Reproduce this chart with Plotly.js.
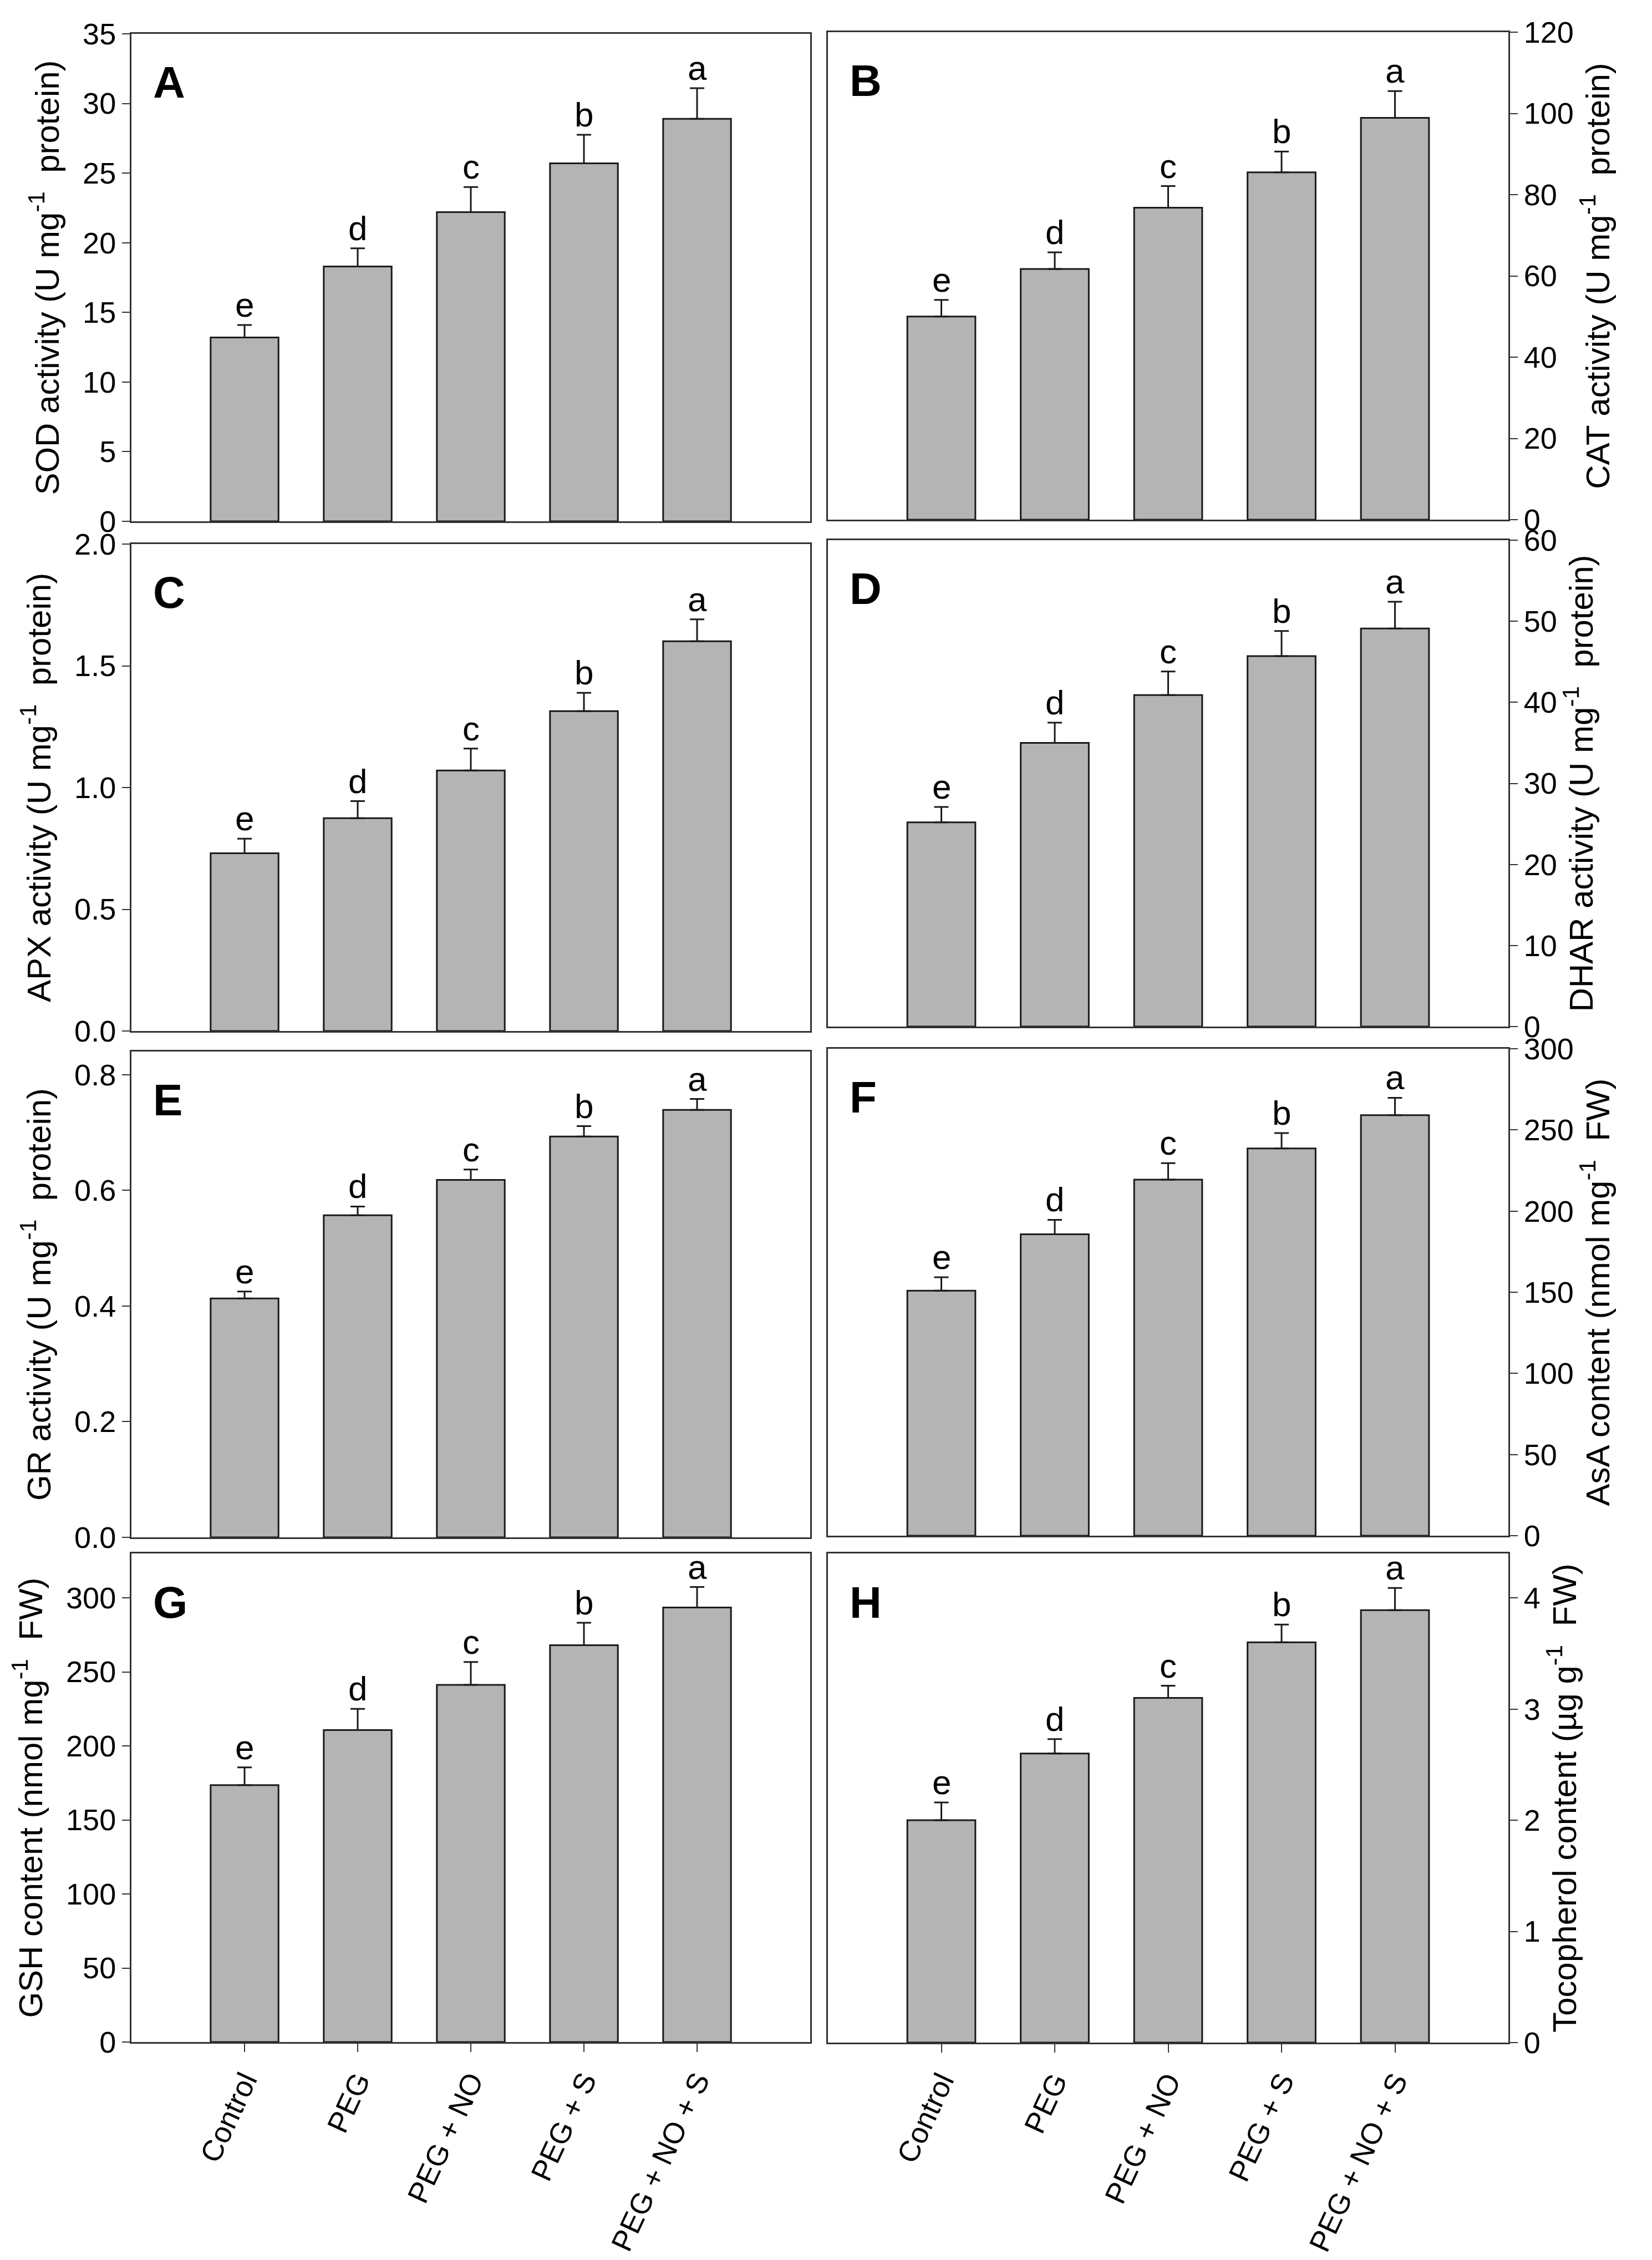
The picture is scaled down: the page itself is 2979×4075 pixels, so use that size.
<!DOCTYPE html>
<html>
<head>
<meta charset="utf-8">
<script src="https://cdn.plot.ly/plotly-3.0.1.min.js"></script>
<style>html,body{margin:0;padding:0;background:#fff;}#chart{width:2979px;height:4075px;}</style>
</head>
<body>
<div id="chart"></div>
<script>
// ---- data ----
const categories = ['Control', 'PEG', 'PEG + NO', 'PEG + S', 'PEG + NO + S'];
const letters = ['e', 'd', 'c', 'b', 'a'];

const sodValues = [13.2, 18.3, 22.2, 25.7, 28.9];
const sodErrors = [0.9, 1.3, 1.8, 2.05, 2.2];

const catValues = [50.0, 61.7, 76.8, 85.5, 98.9];
const catErrors = [4.1, 4.1, 5.3, 5.1, 6.6];

const apxValues = [0.73, 0.874, 1.07, 1.314, 1.601];
const apxErrors = [0.06, 0.07, 0.09, 0.075, 0.09];

const dharValues = [25.2, 35.0, 40.9, 45.7, 49.1];
const dharErrors = [1.9, 2.5, 2.9, 3.1, 3.3];

const grValues = [0.413, 0.557, 0.618, 0.693, 0.739];
const grErrors = [0.012, 0.015, 0.018, 0.018, 0.019];

const asaValues = [150.9, 185.7, 219.4, 238.6, 259.1];
const asaErrors = [8.3, 8.9, 10.1, 9.5, 10.7];

const gshValues = [173.5, 210.7, 241.2, 268.0, 293.5];
const gshErrors = [12.0, 14.3, 15.5, 15.2, 13.8];

const tocValues = [2.0, 2.6, 3.1, 3.6, 3.89];
const tocErrors = [0.16, 0.13, 0.11, 0.16, 0.2];

// ---- panel configuration ----
const W = 2979, H = 4075;
const FONT = 'Liberation Sans, Arial, Helvetica, sans-serif';
const panels = [
  {tag:'A', v:sodValues, e:sodErrors, title:'SOD activity (U mg<sup>-1</sup>  protein)', range:[0,35], dtick:5, fmt:'', side:'left', px:[237,1461], py:[61,940], bottom:false},
  {tag:'B', v:catValues, e:catErrors, title:'CAT activity (U mg<sup>-1</sup>  protein)', range:[0,120], dtick:20, fmt:'', side:'right', px:[1493,2720], py:[58,937], bottom:false},
  {tag:'C', v:apxValues, e:apxErrors, title:'APX activity (U mg<sup>-1</sup>  protein)', range:[0,2], dtick:0.5, fmt:'.1f', side:'left', px:[237,1461], py:[981,1859], bottom:false},
  {tag:'D', v:dharValues, e:dharErrors, title:'DHAR activity (U mg<sup>-1</sup>  protein)', range:[0,60], dtick:10, fmt:'', side:'right', px:[1493,2720], py:[974,1851], bottom:false},
  {tag:'E', v:grValues, e:grErrors, title:'GR activity (U mg<sup>-1</sup>  protein)', range:[0,0.84], dtick:0.2, fmt:'.1f', side:'left', px:[237,1461], py:[1896,2772], bottom:false},
  {tag:'F', v:asaValues, e:asaErrors, title:'AsA content (nmol mg<sup>-1</sup>  FW)', range:[0,300], dtick:50, fmt:'', side:'right', px:[1493,2720], py:[1891,2769], bottom:false},
  {tag:'G', v:gshValues, e:gshErrors, title:'GSH content (nmol mg<sup>-1</sup>  FW)', range:[0,330], dtick:50, fmt:'', side:'left', px:[237,1461], py:[2801,3682], bottom:true},
  {tag:'H', v:tocValues, e:tocErrors, title:'Tocopherol content (µg g<sup>-1</sup>  FW)', range:[0,4.4], dtick:1, fmt:'', side:'right', px:[1493,2720], py:[2801,3683], bottom:true}
];

const traces = [];
const annotations = [];
const layout = {
  width: W, height: H,
  margin: {l:0, r:0, t:0, b:0, pad:0},
  paper_bgcolor: '#ffffff', plot_bgcolor: '#ffffff',
  showlegend: false,
  font: {family: FONT, size: 54, color: '#000'},
  bargap: 0.4
};

panels.forEach((p, i) => {
  const n = i + 1;
  const xa = 'x' + (n === 1 ? '' : n);
  const ya = 'y' + (n === 1 ? '' : n);
  traces.push({
    type: 'bar', x: categories, y: p.v, xaxis: xa, yaxis: ya,
    width: 0.6,
    marker: {color: '#b4b4b4', line: {color: '#1a1a1a', width: 3}},
    error_y: {type: 'data', symmetric: false, array: p.e, arrayminus: p.e.map(() => 0),
              color: '#1a1a1a', thickness: 3, width: 13},
    hoverinfo: 'skip'
  });
  const xKey = 'xaxis' + (n === 1 ? '' : n);
  const yKey = 'yaxis' + (n === 1 ? '' : n);
  layout[xKey] = {
    domain: [p.px[0] / W, p.px[1] / W],
    anchor: ya,
    type: 'category',
    range: [-1, 5],
    showgrid: false, zeroline: false,
    showline: true, linecolor: '#333', linewidth: 3, mirror: true,
    ticks: p.bottom ? 'outside' : '', ticklen: 15, tickwidth: 2, tickcolor: '#333',
    showticklabels: p.bottom,
    tickangle: -65,
    tickfont: {family: FONT, size: 53, color: '#000'},
    fixedrange: true
  };
  layout[yKey] = {
    domain: [1 - p.py[1] / H, 1 - p.py[0] / H],
    anchor: xa,
    side: p.side,
    range: p.range, dtick: p.dtick, tick0: 0, tickformat: p.fmt,
    showgrid: false, zeroline: false,
    showline: true, linecolor: '#333', linewidth: 3, mirror: true,
    ticks: 'outside', ticklen: 14, tickwidth: 2, tickcolor: '#333',
    tickfont: {family: FONT, size: 54, color: '#000'},
    title: {text: p.title, font: {family: FONT, size: 60, color: '#000'}, standoff: 24},
    automargin: false,
    fixedrange: true
  };
  // significance letters
  categories.forEach((c, k) => {
    annotations.push({
      xref: xa, yref: ya, x: c, y: p.v[k] + p.e[k],
      text: letters[k], showarrow: false, xanchor: 'center', yanchor: 'bottom',
      yshift: 0, font: {family: FONT, size: 62, color: '#000'}
    });
  });
  // panel tag
  annotations.push({
    xref: xa + ' domain', yref: ya + ' domain', x: 0.03, y: 0.9,
    text: '<b>' + p.tag + '</b>', showarrow: false, xanchor: 'left', yanchor: 'middle',
    font: {family: FONT, size: 80, color: '#000'}
  });
});
layout.annotations = annotations;

Plotly.newPlot('chart', traces, layout, {staticPlot: true, displayModeBar: false});
</script>
</body>
</html>
